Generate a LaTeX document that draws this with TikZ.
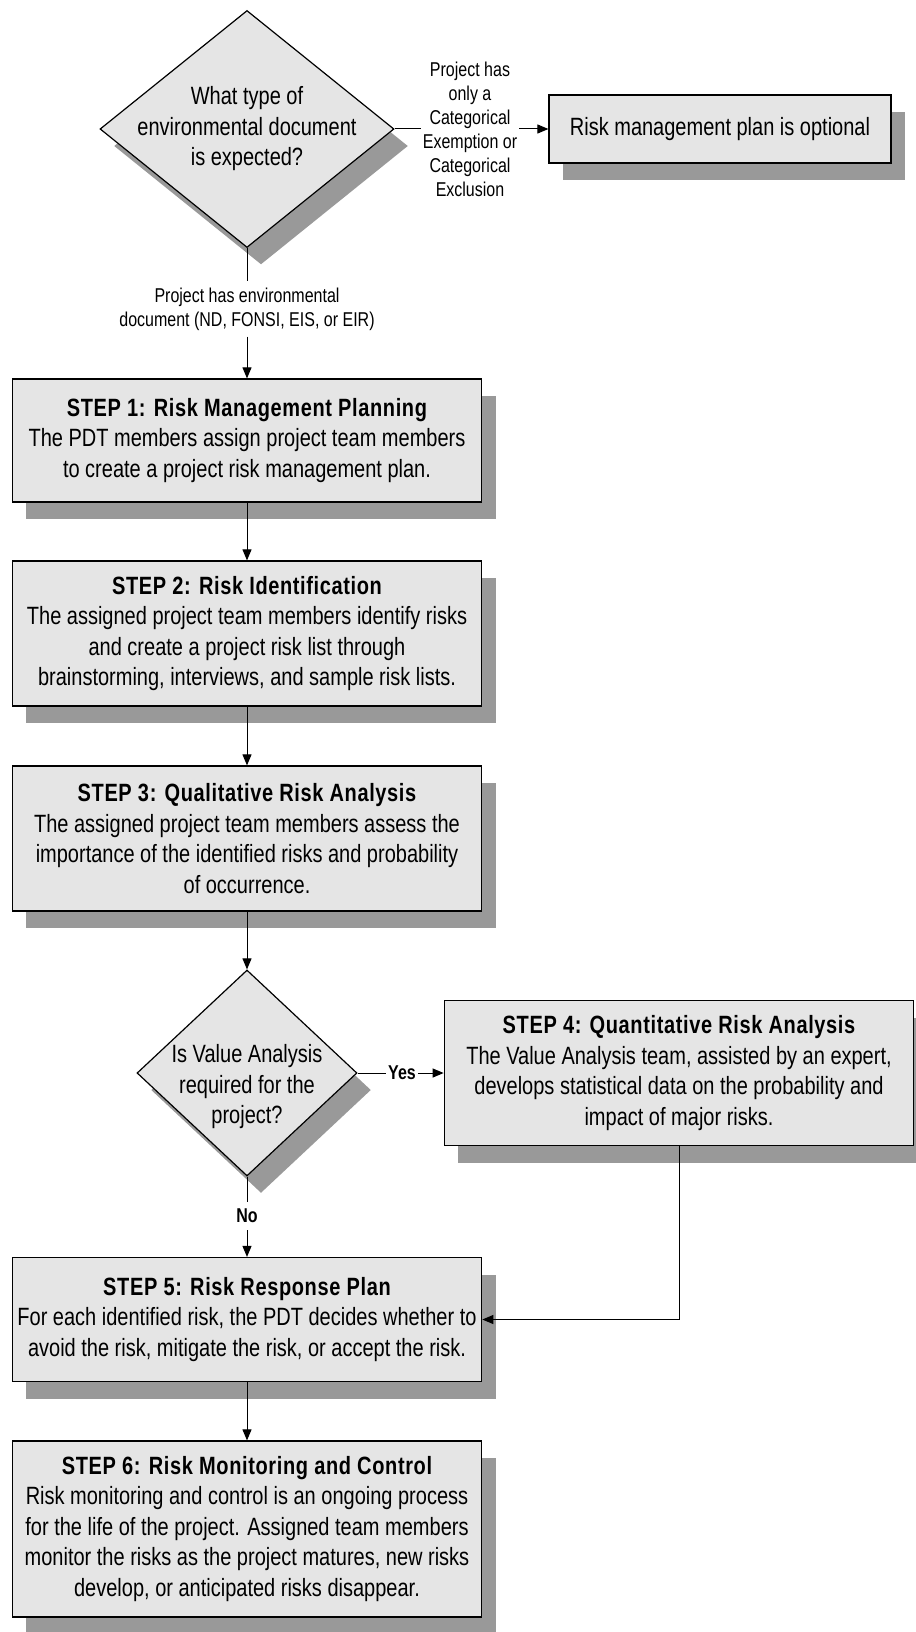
\documentclass[tikz,border=0pt]{standalone}
\usepackage{fontspec}
\setmainfont[FakeStretch=0.8]{Liberation Sans}
\usepackage{tikz}
\usetikzlibrary{shapes.geometric}
\usetikzlibrary{shadows}
\usetikzlibrary{arrows.meta}

\newcommand\steptitle[1]{{\bfseries\addfontfeatures{LetterSpace=2.5}#1}}

\begin{document}
\begin{tikzpicture}[x=1pt,y=-1pt,
    shade box/.style={drop shadow={shadow xshift=14pt,shadow yshift=-17pt,fill=black!40,opacity=1}},
    stepbox/.style={draw,line width=1.2pt,fill=black!10,align=center,inner sep=0pt,
        minimum width=\boxwidth pt,shade box},
    decision/.style={diamond,draw,line width=1.2pt,fill=black!10,inner sep=0pt,shade box},
    note/.style={align=center,font=\fontsize{20}{24}\selectfont},
    link/.style={line width=1pt},
    flow/.style={line width=1pt,-{Triangle[length=11pt,width=9pt]}}]

        \def \boxwidth {469.5}
        \def \midx {247}

        \fontsize{25}{30.5}\selectfont
        \useasboundingbox (0,0) rectangle (915,1632);

        % Draw decisions
        \node[decision,minimum width=294pt,minimum height=237pt,
            label={[align=center]center:What type of\\environmental document\\is expected?}] (q1) at (\midx,129) {};
        \node[decision,minimum width=220pt,minimum height=206pt,
            label={[align=center,yshift=-14pt]center:Is Value Analysis\\required for the\\project?}] (q2) at (\midx,1073) {};

        % Draw boxes
        \node[stepbox,minimum width=342pt,minimum height=68pt] (opt) at (720,129) {Risk management plan is optional};
        \node[stepbox,minimum height=123pt] (s1) at (\midx,440.5)
            {\steptitle{STEP 1: Risk Management Planning}\\The PDT members assign project team members\\to create a project risk management plan.};
        \node[stepbox,minimum height=145pt] (s2) at (\midx,633.5)
            {\steptitle{STEP 2: Risk Identification}\\The assigned project team members identify risks\\and create a project risk list through\\brainstorming, interviews, and sample risk lists.};
        \node[stepbox,minimum height=145pt] (s3) at (\midx,838.5)
            {\steptitle{STEP 3: Qualitative Risk Analysis}\\The assigned project team members assess the\\importance of the identified risks and probability\\of occurrence.};
        \node[stepbox,minimum height=145pt] (s4) at (679,1073)
            {\steptitle{STEP 4: Quantitative Risk Analysis}\\The Value Analysis team, assisted by an expert,\\develops statistical data on the probability and\\impact of major risks.};
        \node[stepbox,minimum height=124pt] (s5) at (\midx,1319.5)
            {\steptitle{STEP 5: Risk Response Plan}\\For each identified risk, the PDT decides whether to\\avoid the risk, mitigate the risk, or accept the risk.};
        \node[stepbox,minimum height=176pt] (s6) at (\midx,1529)
            {\steptitle{STEP 6: Risk Monitoring and Control}\\Risk monitoring and control is an ongoing process\\for the life of the project. Assigned team members\\monitor the risks as the project matures, new risks\\develop, or anticipated risks disappear.};

        % Draw branch labels
        \node[note,inner sep=2pt] (cat) at (470,129) {Project has\\only a\\Categorical\\Exemption or\\Categorical\\Exclusion};
        \node[note,inner ysep=6pt] (envdoc) at (\midx,309) {Project has environmental\\document (ND, FONSI, EIS, or EIR)};
        \node[note,inner sep=2pt] (yes) at (402,1073) {\textbf{Yes}};
        \node[note,inner ysep=7pt] (no) at (\midx,1216) {\textbf{No}};

        % Draw edges
        \def \drawline#1#2{\draw[link] (#1) -- (#2);}
        \def \drawarrow#1#2{\draw[flow] (#1) -- (#2);}
        \drawline{q1.east}{cat.west} \drawarrow{cat.east}{opt.west}
        \drawline{q1.south}{envdoc.north} \drawarrow{envdoc.south}{s1.north}
        \foreach \a/\b in {s1/s2, s2/s3, s3/q2, s5/s6} {
            \drawarrow{\a.south}{\b.north}
        }
        \drawline{q2.east}{yes.west} \drawarrow{yes.east}{s4.west}
        \drawline{q2.south}{no.north} \drawarrow{no.south}{s5.north}
        \draw[flow] (s4.south) |- (s5.east);

    \end{tikzpicture}
\end{document}
